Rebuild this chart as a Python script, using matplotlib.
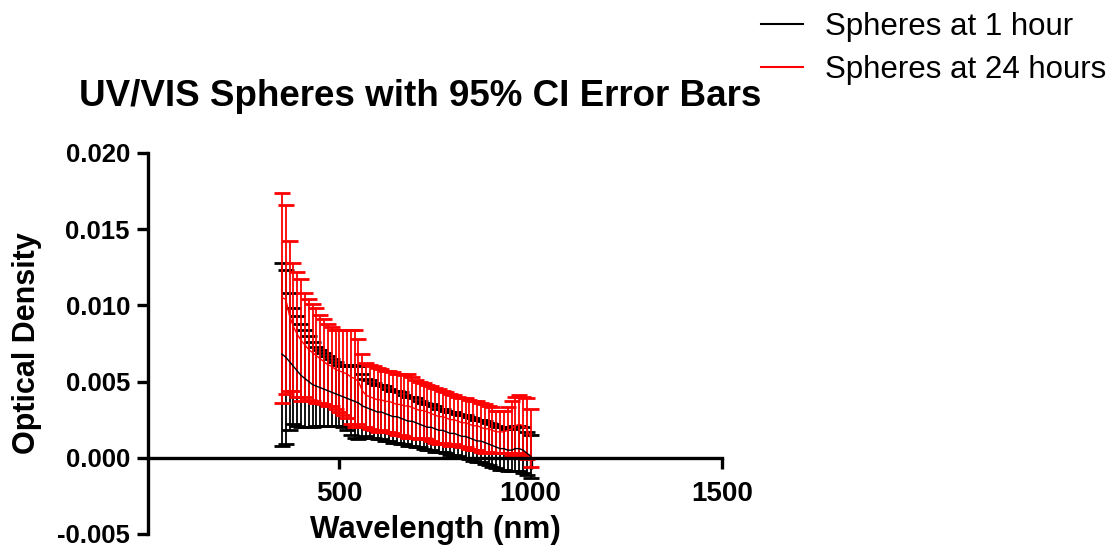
import numpy as np
import matplotlib
matplotlib.use('Agg')
from matplotlib import pyplot as plt

plt.rcParams['font.family'] = ['Liberation Sans', 'DejaVu Sans']

# wavelength grid (nm)
wavelength = [350, 360, 370, 380, 390, 400, 410, 420, 430, 440,
              450, 460, 470, 480, 490, 500, 510, 520, 530, 540,
              550, 560, 570, 580, 590, 600, 610, 620, 630, 640,
              650, 660, 670, 680, 690, 700, 710, 720, 730, 740,
              750, 760, 770, 780, 790, 800, 810, 820, 830, 840,
              850, 860, 870, 880, 890, 900, 910, 920, 930, 940,
              950, 960, 970, 980, 990, 1000]

# spheres at 1 hour: mean OD and 95% CI half width
od_1h = [0.0068, 0.0066, 0.0063, 0.0060, 0.0057, 0.0054, 0.0052, 0.0050, 0.0048, 0.0047,
         0.0046, 0.0045, 0.0044, 0.0043, 0.0042, 0.0041, 0.0040, 0.0039, 0.0038, 0.0037,
         0.0036, 0.0034, 0.0033, 0.0032, 0.0031, 0.0030, 0.0030, 0.0029, 0.0028, 0.0027,
         0.0027, 0.0026, 0.0025, 0.0024, 0.0024, 0.0023, 0.0022, 0.0021, 0.0020, 0.0020,
         0.0019, 0.0018, 0.0018, 0.0017, 0.0016, 0.0016, 0.0015, 0.0014, 0.0014, 0.0013,
         0.0012, 0.0011, 0.0011, 0.0010, 0.0009, 0.0008, 0.0007, 0.0006, 0.0006, 0.0005,
         0.0005, 0.0006, 0.0006, 0.0005, 0.0003, 0.0001]
ci_1h = [0.0060, 0.0057, 0.0045, 0.0038, 0.0036, 0.0034, 0.0032, 0.0030, 0.0028, 0.0026,
         0.0025, 0.0024, 0.0023, 0.0022, 0.0021, 0.0020, 0.0020, 0.0021, 0.0023, 0.0024,
         0.0024, 0.0021, 0.0019, 0.0019, 0.0018, 0.0018, 0.0018, 0.0018, 0.0017, 0.0017,
         0.0017, 0.0017, 0.0016, 0.0016, 0.0016, 0.0016, 0.0015, 0.0015, 0.0015, 0.0015,
         0.0015, 0.0014, 0.0014, 0.0014, 0.0014, 0.0014, 0.0014, 0.0014, 0.0014, 0.0014,
         0.0014, 0.0014, 0.0014, 0.0014, 0.0014, 0.0014, 0.0014, 0.0014, 0.0014, 0.0014,
         0.0014, 0.0015, 0.0015, 0.0015, 0.0014, 0.0014]

# spheres at 24 hours
od_24h = [0.0105, 0.0104, 0.0093, 0.0086, 0.0081, 0.0077, 0.0074, 0.0071, 0.0069, 0.0067,
          0.0065, 0.0063, 0.0061, 0.0060, 0.0058, 0.0057, 0.0056, 0.0055, 0.0053, 0.0052,
          0.0050, 0.0044, 0.0041, 0.0040, 0.0039, 0.0038, 0.0038, 0.0037, 0.0037, 0.0036,
          0.0035, 0.0035, 0.0034, 0.0034, 0.0033, 0.0032, 0.0031, 0.0031, 0.0030, 0.0029,
          0.0028, 0.0027, 0.0027, 0.0026, 0.0025, 0.0025, 0.0024, 0.0023, 0.0023, 0.0022,
          0.0021, 0.0021, 0.0020, 0.0019, 0.0019, 0.0018, 0.0017, 0.0017, 0.0017, 0.0018,
          0.0019, 0.0021, 0.0022, 0.0021, 0.0019, 0.0013]
ci_24h = [0.0069, 0.0062, 0.0049, 0.0042, 0.0041, 0.0040, 0.0034, 0.0033, 0.0032, 0.0031,
          0.0029, 0.0028, 0.0027, 0.0026, 0.0026, 0.0027, 0.0028, 0.0029, 0.0031, 0.0032,
          0.0028, 0.0024, 0.0021, 0.0021, 0.0021, 0.0021, 0.0020, 0.0020, 0.0020, 0.0020,
          0.0020, 0.0020, 0.0020, 0.0021, 0.0020, 0.0019, 0.0019, 0.0018, 0.0018, 0.0018,
          0.0018, 0.0018, 0.0017, 0.0017, 0.0017, 0.0016, 0.0016, 0.0016, 0.0016, 0.0016,
          0.0016, 0.0016, 0.0016, 0.0016, 0.0015, 0.0015, 0.0014, 0.0014, 0.0014, 0.0015,
          0.0018, 0.0019, 0.0019, 0.0019, 0.0020, 0.0019]

fig = plt.figure(figsize=(11.12, 5.48), dpi=100)
ax = fig.add_axes([0.1331, 0.0256, 0.5162, 0.6953])

ax.errorbar(wavelength, od_1h, yerr=ci_1h, color='black', lw=1, elinewidth=1.3,
            capsize=6, capthick=2, label='Spheres at 1 hour')
ax.errorbar(wavelength, od_24h, yerr=ci_24h, color='#ff0000', lw=1, elinewidth=1.3,
            capsize=6, capthick=2, label='Spheres at 24 hours')

ax.set_xlim(0, 1500)
ax.set_ylim(-0.005, 0.020)
ax.set_xticks([500, 1000, 1500])
ax.set_yticks([-0.005, 0.000, 0.005, 0.010, 0.015, 0.020])
ax.set_yticklabels(['%.3f' % v for v in ax.get_yticks()])

for s in ['top', 'right']:
    ax.spines[s].set_visible(False)
ax.spines['bottom'].set_position(('data', 0))
ax.spines['bottom'].set_linewidth(2.4)
ax.spines['left'].set_linewidth(2.4)
ax.tick_params(axis='x', direction='out', length=8, width=2.4, labelsize=20, pad=9)
ax.tick_params(axis='y', direction='out', length=8, width=2.4, labelsize=18.5, pad=5)
for lab in ax.get_xticklabels() + ax.get_yticklabels():
    lab.set_fontweight('bold')

fig.text(420 / 1112, 1 - 97 / 548, 'UV/VIS Spheres with 95% CI Error Bars',
         ha='center', va='center', fontsize=26.5, fontweight='bold')
fig.text(435 / 1112, 1 - 530 / 548, 'Wavelength (nm)',
         ha='center', va='center', fontsize=22.5, fontweight='bold')
fig.text(27 / 1112, 1 - 343 / 548, 'Optical Density', rotation=90,
         ha='center', va='center', fontsize=22, fontweight='bold')

handles, labels = ax.get_legend_handles_labels()
handles = [h[0] for h in handles]
leg = fig.legend(handles, labels, loc='upper left', bbox_to_anchor=(755 / 1112, 1 - 6 / 548),
                 frameon=False, fontsize=22.5, handlelength=1.35, handletextpad=0.7,
                 labelspacing=0.4, borderpad=0.2, borderaxespad=0)
for line in leg.get_lines():
    line.set_linewidth(1.5)

fig.savefig('out.png', dpi=100)
